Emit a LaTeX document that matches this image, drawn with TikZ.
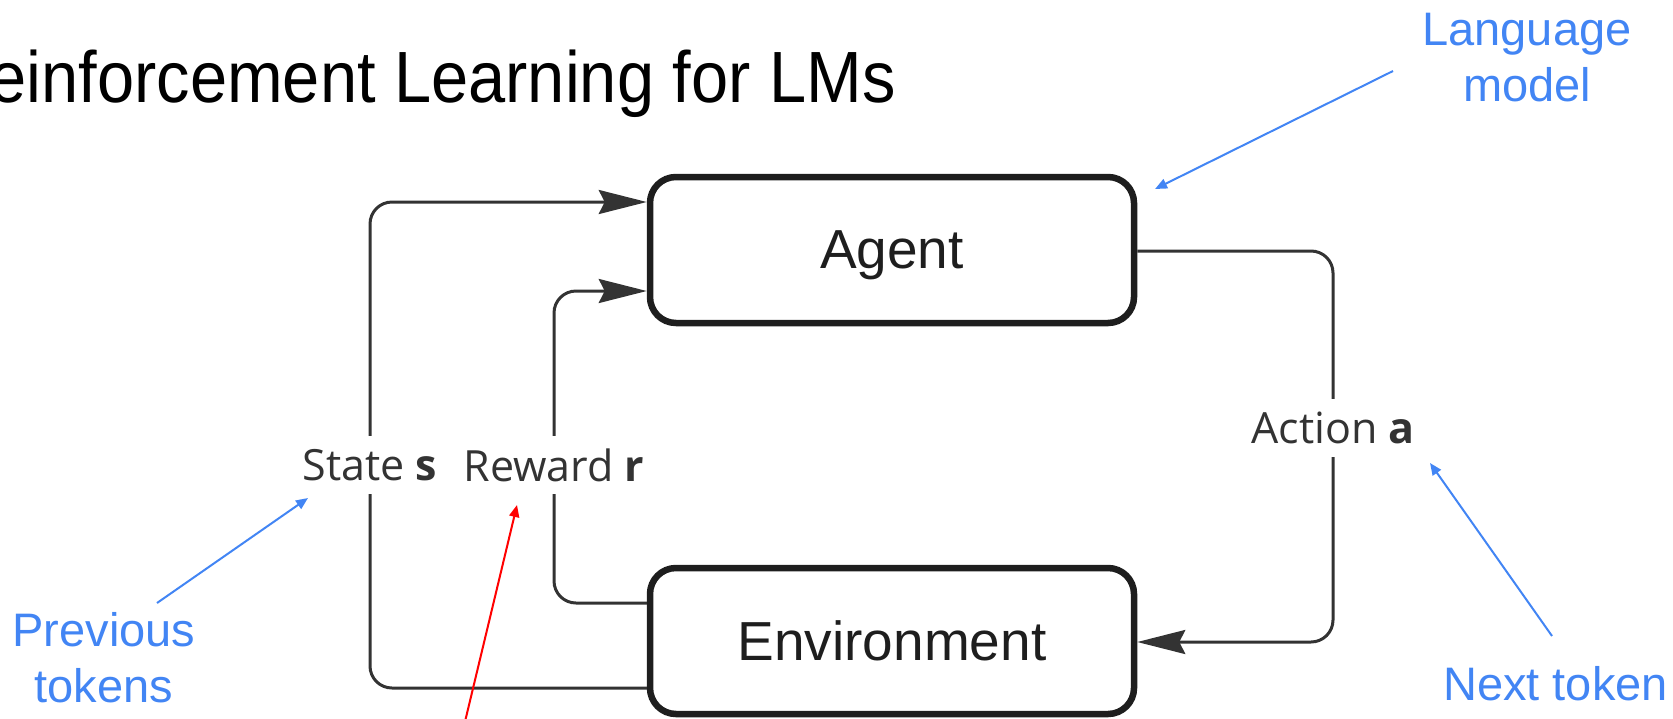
\documentclass[tikz,border=0pt]{standalone}
\usepackage{fontspec}
\setmainfont{Liberation Sans}
\newfontfamily\lblfont{Open Sans}
\newfontfamily\titlefont[FakeStretch=0.92]{Liberation Sans}
\usetikzlibrary{arrows.meta}
\definecolor{gblue}{HTML}{4285F4}
\definecolor{conncol}{HTML}{333333}
\definecolor{boxcol}{HTML}{1E1E1E}
\begin{document}
\begin{tikzpicture}[x=0.5pt,y=-0.5pt,
  box/.style={draw=boxcol, line width=3.25pt, rounded corners=13pt, minimum width=242pt, minimum height=73pt, inner sep=0pt, text depth=0pt, font=\fontsize{27.5}{33}\selectfont, text=boxcol},
  conn/.style={draw=conncol, line width=1.5pt, rounded corners=11pt},
  bigtip/.style={-{Stealth[length=24pt,width=12pt,inset=3pt]}},
  lbl/.style={fill=white, text=conncol, inner xsep=2pt, inner ysep=6.5pt, text depth=0pt, font=\lblfont\fontsize{21.5}{26}\selectfont},
  note/.style={text=gblue, align=center, inner sep=0pt, text depth=0pt, font=\fontsize{23.5}{28}\selectfont},
  noteline/.style={draw=gblue, line width=1pt, -{Triangle[length=6pt,width=5pt]}},
  redline/.style={draw=red, line width=1pt, -{Triangle[length=6pt,width=5pt]}},
]
\useasboundingbox (0,0) rectangle (1673,718);
\clip (0,0) rectangle (1673,718);
\node[anchor=base east, inner sep=0pt, font=\titlefont\fontsize{36.3}{44}\selectfont] (title) at (896,102) {Reinforcement Learning for LMs};

\node[box] (agent) at (892,250) {Agent};
\node[box] (env) at (892,641) {Environment};

\coordinate (stop) at (370,202);
\coordinate (sbot) at (370,688);
\coordinate (rtop) at (554,291);
\coordinate (rbot) at (554,603);
\coordinate (atop) at (1333,251);
\coordinate (abot) at (1333,642);

\draw[conn,bigtip] (env.west |- sbot) -- (sbot) -- (stop) -- (agent.west |- stop);
\draw[conn,bigtip] (env.west |- rbot) -- (rbot) -- (rtop) -- (agent.west |- rtop);
\draw[conn,bigtip] (agent.east |- atop) -- (atop) -- (abot) -- (env.east |- abot);

\node[lbl] (slbl) at (370,465) {State \textbf{s}};
\node[lbl] (rlbl) at (554,465) {Reward \textbf{r}};
\node[lbl] (albl) at (1333,428) {Action \textbf{a}};

\node[note] (lm) at (1527,57) {Language\\model};
\node[note] (prev) at (104,657) {Previous\\tokens};
\node[note] (next) at (1555.5,683.5) {Next token};

\coordinate (lmfrom) at (1393,71);
\coordinate (lmto) at (1155,189);
\coordinate (prevfrom) at (157,603);
\coordinate (prevto) at (308,498);
\coordinate (nextfrom) at (1552,636);
\coordinate (nextto) at (1430,463);
\coordinate (redfrom) at (463,730);
\coordinate (redto) at (517,505);

\draw[noteline] (lmfrom) -- (lmto);
\draw[noteline] (prevfrom) -- (prevto);
\draw[noteline] (nextfrom) -- (nextto);
\draw[redline] (redfrom) -- (redto);
\end{tikzpicture}
\end{document}
